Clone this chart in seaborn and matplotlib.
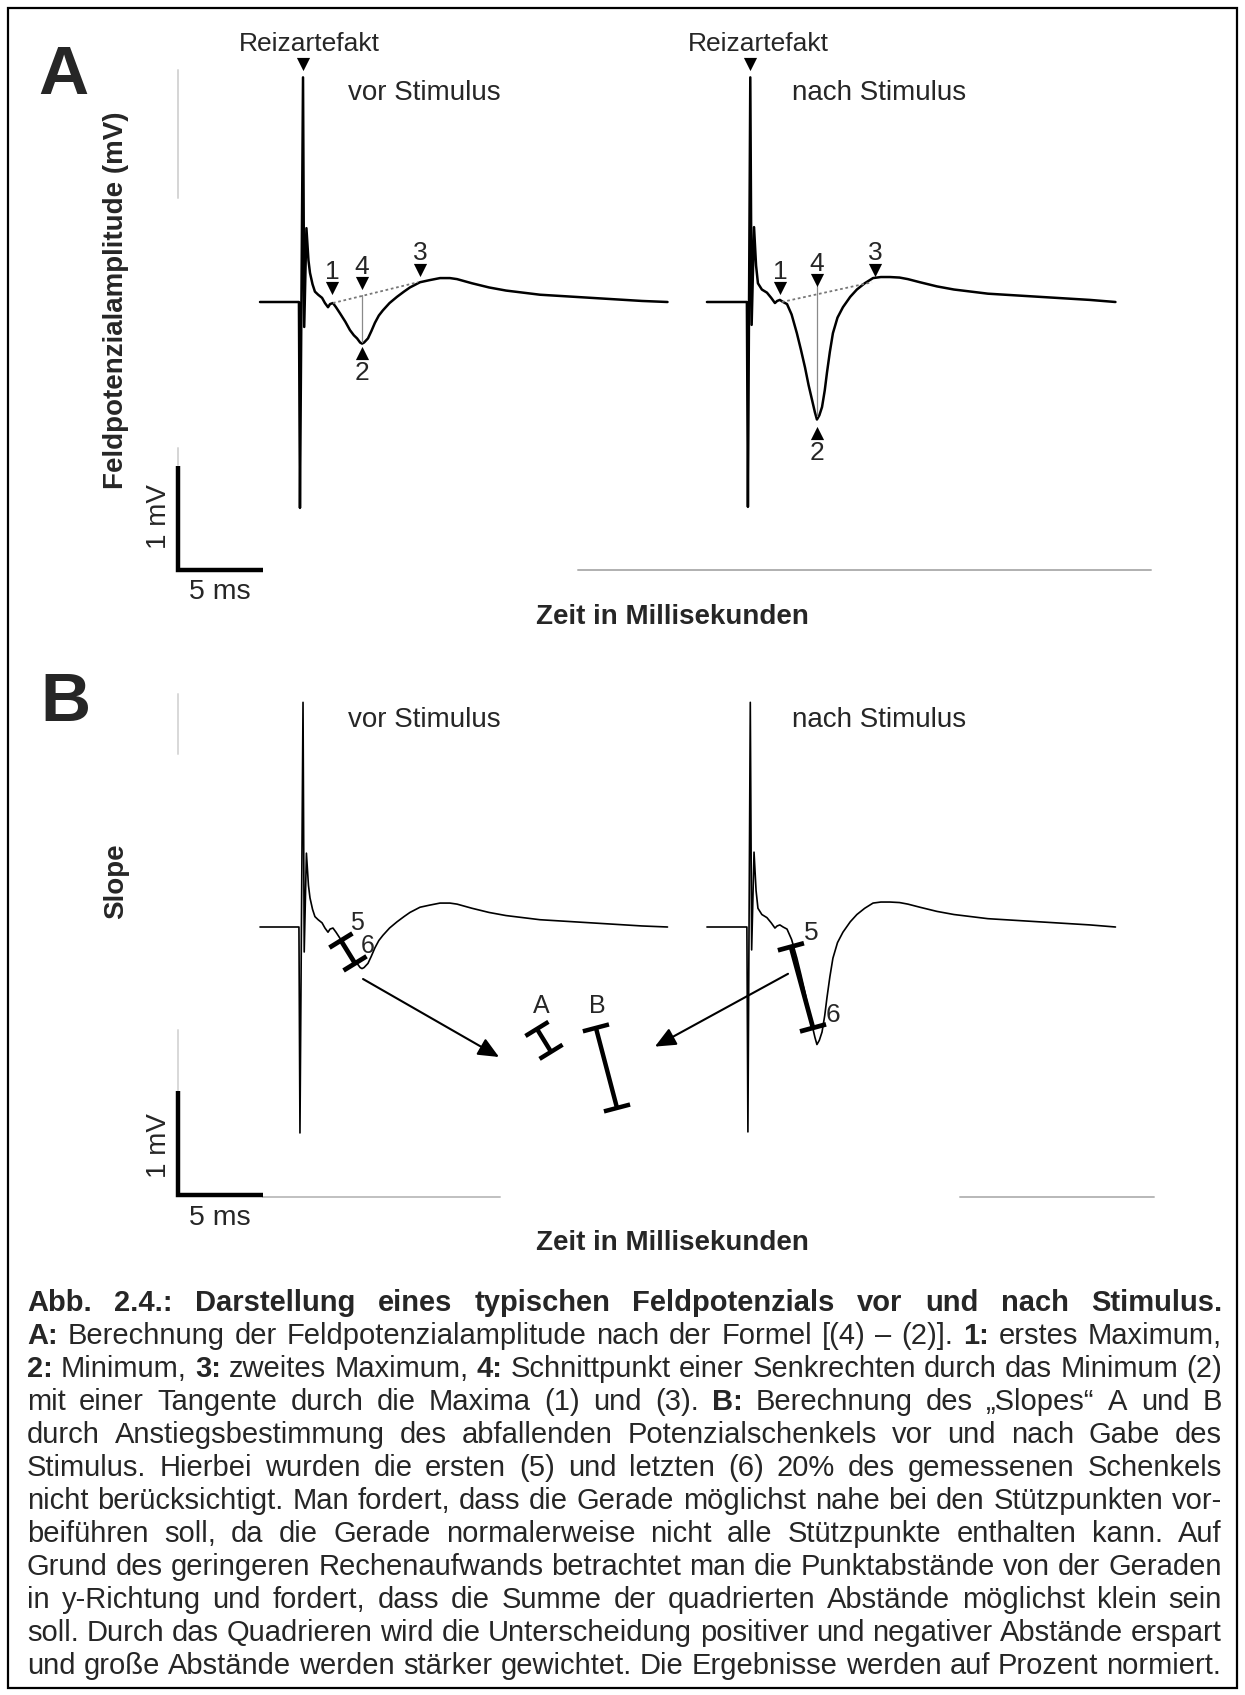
import numpy as np
import pandas as pd
import matplotlib
matplotlib.use("Agg")
import matplotlib.pyplot as plt
import seaborn as sns
from matplotlib.patches import Rectangle

# ---------------- data (ms, mV; t = 0 at stimulus artefact) ----------------
time_vor = [-2.47, -0.18, -0.12, 0.06, 0.13, 0.26, 0.38, 0.47, 0.62, 0.76, 0.95, 1.18,
            1.35, 1.53, 1.65, 1.82, 2.0, 2.24, 2.55, 2.82, 3.05, 3.24, 3.42, 3.53, 3.65,
            3.88, 4.08, 4.29, 4.52, 4.76, 5.15, 5.59, 6.0, 6.35, 6.94, 7.5, 8.12, 8.7,
            9.12, 10.0, 11.0, 12.0, 13.0, 14.0, 15.0, 16.0, 17.0, 18.0, 19.0, 20.0, 21.5]
volt_vor = [0.0, 0.0, -1.98, 2.16, -0.24, 0.71, 0.40, 0.28, 0.17, 0.10, 0.07, 0.04,
            -0.01, -0.05, -0.02, -0.01, -0.05, -0.11, -0.19, -0.27, -0.32, -0.35, -0.39, -0.40, -0.39,
            -0.35, -0.28, -0.20, -0.13, -0.08, -0.01, 0.05, 0.10, 0.14, 0.19, 0.21, 0.23, 0.23,
            0.22, 0.18, 0.14, 0.11, 0.09, 0.07, 0.06, 0.05, 0.04, 0.03, 0.02, 0.01, 0.0]

time_nach = [-2.53, -0.18, -0.12, 0.02, 0.10, 0.24, 0.36, 0.47, 0.7, 1.0, 1.25, 1.47,
             1.6, 1.76, 1.95, 2.18, 2.45, 2.76, 3.0, 3.24, 3.45, 3.65, 3.82, 3.94, 4.08,
             4.24, 4.4, 4.53, 4.7, 4.88, 5.15, 5.47, 5.9, 6.29, 6.75, 7.24, 7.7, 8.24,
             8.8, 9.29, 10.0, 11.0, 12.0, 13.0, 14.0, 15.0, 16.0, 17.0, 18.0, 19.0, 20.0, 21.5]
volt_nach = [0.0, 0.0, -1.97, 2.16, -0.22, 0.72, 0.35, 0.18, 0.12, 0.09, 0.04, -0.01,
             0.01, 0.02, 0.0, -0.02, -0.12, -0.30, -0.46, -0.63, -0.80, -0.94, -1.06, -1.13, -1.09,
             -1.01, -0.85, -0.68, -0.48, -0.30, -0.15, -0.05, 0.05, 0.12, 0.18, 0.23, 0.24, 0.24,
             0.235, 0.22, 0.19, 0.15, 0.12, 0.10, 0.08, 0.07, 0.06, 0.05, 0.04, 0.03, 0.02, 0.0]

# panel A markers
reiz_t = [0.06, 0.0]
reiz_v = [2.29, 2.29]
down_labels = ["1", "4", "3"]
vor_down_t = [1.76, 3.53, 6.94]
vor_down_v = [0.13, 0.18, 0.31]
nach_down_t = [1.76, 3.94, 7.35]
nach_down_v = [0.13, 0.21, 0.31]
vor_min_t, vor_min_v = 3.53, -0.49
nach_min_t, nach_min_v = 3.94, -1.26
tangent_vor_t = [1.82, 6.82]
tangent_vor_v = [-0.01, 0.19]
tangent_nach_t = [1.88, 7.18]
tangent_nach_v = [0.0, 0.19]
perp_vor_v = [0.07, -0.38]
perp_nach_v = [0.15, -1.10]

# panel B slope segments
slope_vor_t = [2.29, 3.12]
slope_vor_v = [-0.13, -0.35]
slope_nach_t = [2.41, 3.71]
slope_nach_v = [-0.19, -0.97]
slope_A_t = [13.82, 14.65]
slope_A_v = [-0.98, -1.20]
slope_B_t = [17.29, 18.53]
slope_B_v = [-0.97, -1.74]

scale_ms = 5.0
scale_mv = 1.0

caption_lines = [
    "Abb. 2.4.: Darstellung eines typischen Feldpotenzials vor und nach Stimulus.",
    "A: Berechnung der Feldpotenzialamplitude nach der Formel [(4) \u2013 (2)]. 1: erstes Maximum,",
    "2: Minimum, 3: zweites Maximum, 4: Schnittpunkt einer Senkrechten durch das Minimum (2)",
    "mit einer Tangente durch die Maxima (1) und (3). B: Berechnung des \u201eSlopes\u201c A und B",
    "durch Anstiegsbestimmung des abfallenden Potenzialschenkels vor und nach Gabe des",
    "Stimulus. Hierbei wurden die ersten (5) und letzten (6) 20% des gemessenen Schenkels",
    "nicht ber\u00fccksichtigt. Man fordert, dass die Gerade m\u00f6glichst nahe bei den St\u00fctzpunkten vor-",
    "beif\u00fchren soll, da die Gerade normalerweise nicht alle St\u00fctzpunkte enthalten kann. Auf",
    "Grund des geringeren Rechenaufwands betrachtet man die Punktabst\u00e4nde von der Geraden",
    "in y-Richtung und fordert, dass die Summe der quadrierten Abst\u00e4nde m\u00f6glichst klein sein",
    "soll. Durch das Quadrieren wird die Unterscheidung positiver und negativer Abst\u00e4nde erspart",
    "und gro\u00dfe Abst\u00e4nde werden st\u00e4rker gewichtet. Die Ergebnisse werden auf Prozent normiert.",
]
bold_tokens = {"A:", "1:", "2:", "3:", "4:", "B:"}

# ---------------- layout ----------------
sns.set_theme(style="white")
plt.rcParams["font.family"] = ["Liberation Sans", "DejaVu Sans"]

W, H = 1245, 1695
fig = plt.figure(figsize=(W / 100, H / 100), dpi=100)
fig.patch.set_facecolor("white")
bg = fig.add_axes([0, 0, 1, 1])
bg.set_xlim(0, W)
bg.set_ylim(H, 0)
bg.axis("off")

PX_MS, PX_MV, X_STIM = 17.0, 104.0, 302.0
NACH_OFFSET = 26.35


def panel_axes(top_px, bot_px):
    ax = fig.add_axes([0, 1 - bot_px / H, 1, (bot_px - top_px) / H])
    ax.axis("off")
    return ax


def set_limits(ax, top_px, bot_px, base_px):
    ax.set_xlim(-X_STIM / PX_MS, (W - X_STIM) / PX_MS)
    ax.set_ylim((base_px - bot_px) / PX_MV, (base_px - top_px) / PX_MV)


def draw_traces(ax, lw):
    for t, v, off in [(time_vor, volt_vor, 0.0), (time_nach, volt_nach, NACH_OFFSET)]:
        df = pd.DataFrame({"t": np.asarray(t) + off, "v": v})
        sns.lineplot(data=df, x="t", y="v", sort=False, estimator=None,
                     color="black", lw=lw, ax=ax, legend=False)
    ax.set_xlabel("")
    ax.set_ylabel("")


def scalebar(ax):
    x0 = -7.29
    y0 = -2.58
    ax.plot([x0, x0, x0 + scale_ms], [y0 + scale_mv, y0, y0], color="black", lw=3.2,
            solid_joinstyle="miter", solid_capstyle="butt")


def ibeam(ax, ts, vs, cap=26, lw=3.0):
    p = ax.transData.transform(np.column_stack([ts, vs]))
    d = p[1] - p[0]
    d = d / np.hypot(*d)
    n = np.array([-d[1], d[0]])
    inv = ax.transData.inverted()
    ax.plot(ts, vs, color="black", lw=lw, solid_capstyle="butt")
    for q in p:
        e = inv.transform(np.array([q - n * cap / 2, q + n * cap / 2]))
        ax.plot(e[:, 0], e[:, 1], color="black", lw=lw, solid_capstyle="butt")


# ---- Panel A ----
A_TOP, A_BOT, A_BASE = 0, 650, 302
axA = panel_axes(A_TOP, A_BOT)
draw_traces(axA, 1.8)
set_limits(axA, A_TOP, A_BOT, A_BASE)
scalebar(axA)
tri = dict(color="black", s=90, linewidths=0, zorder=5)
axA.scatter(np.array(reiz_t) + np.array([0, NACH_OFFSET]), reiz_v, marker="v", **tri)
for off, dt, dv, mt, mv, tt, tv, pv in [
        (0.0, vor_down_t, vor_down_v, vor_min_t, vor_min_v, tangent_vor_t, tangent_vor_v, perp_vor_v),
        (NACH_OFFSET, nach_down_t, nach_down_v, nach_min_t, nach_min_v, tangent_nach_t, tangent_nach_v, perp_nach_v)]:
    axA.plot(np.array(tt) + off, tv, color="#777777", lw=1.3, ls=(0, (1.5, 1.5)))
    axA.plot([mt + off, mt + off], pv, color="#8a8a8a", lw=0.9)
    axA.scatter(np.array(dt) + off, dv, marker="v", **tri)
    for lab, x, y in zip(down_labels, dt, dv):
        axA.text(x + off, y + 0.16, lab, ha="center", va="center", fontsize=19)
    axA.scatter([mt + off], [mv], marker="^", **tri)
    axA.text(mt + off, mv - 0.19, "2", ha="center", va="center", fontsize=19)

# ---- Panel B ----
B_TOP, B_BOT, B_BASE = 650, 1270, 927
axB = panel_axes(B_TOP, B_BOT)
draw_traces(axB, 1.2)
set_limits(axB, B_TOP, B_BOT, B_BASE)
scalebar(axB)
ibeam(axB, slope_vor_t, slope_vor_v, cap=27, lw=3.4)
ibeam(axB, np.array(slope_nach_t) + NACH_OFFSET, slope_nach_v, cap=27, lw=3.4)
ibeam(axB, slope_A_t, slope_A_v, cap=27, lw=3.2)
ibeam(axB, slope_B_t, slope_B_v, cap=27, lw=3.2)
axB.text(3.24, 0.04, "5", ha="center", va="center", fontsize=18)
axB.text(3.88, -0.18, "6", ha="center", va="center", fontsize=18)
axB.text(3.59 + NACH_OFFSET, -0.06, "5", ha="center", va="center", fontsize=19)
axB.text(4.89 + NACH_OFFSET, -0.85, "6", ha="center", va="center", fontsize=19)
axB.text(np.mean(slope_A_t) - 0.15, -0.76, "A", ha="center", va="center", fontsize=18)
axB.text(slope_B_t[0] + 0.06, -0.76, "B", ha="center", va="center", fontsize=18)
arrow = dict(arrowstyle="-|>,head_length=0.9,head_width=0.4", color="black", lw=1.5,
             shrinkA=0, shrinkB=0, mutation_scale=14)
axB.annotate("", xy=(11.59, -1.25), xytext=(3.59, -0.50), arrowprops=arrow)
axB.annotate("", xy=(20.76, -1.15), xytext=(28.59, -0.45), arrowprops=arrow)

# ---- faint remnants of original axes ----
for (x0, y0, x1, y1, c) in [(178, 70, 178, 198, "#d5d5d5"), (178, 448, 178, 465, "#d5d5d5"),
                            (578, 570, 1151, 570, "#b0b0b0"),
                            (178, 694, 178, 754, "#d8d8d8"), (178, 1030, 178, 1095, "#d8d8d8"),
                            (263, 1197, 500, 1197, "#c0c0c0"), (960, 1197, 1154, 1197, "#b8b8b8")]:
    bg.plot([x0, x1], [y0, y1], color=c, lw=1.4)

# ---- texts in pixel space ----
bg.text(63, 76, "A", ha="center", va="center", fontsize=50, fontweight="bold")
bg.text(65, 703, "B", ha="center", va="center", fontsize=50, fontweight="bold")
bg.text(116, 300, "Feldpotenzialamplitude (mV)", rotation=90, ha="center", va="center",
        fontsize=20, fontweight="bold")
bg.text(116, 881, "Slope", rotation=90, ha="center", va="center", fontsize=20, fontweight="bold")
for yy in (517, 1146):
    bg.text(159, yy, "1 mV", rotation=90, ha="center", va="center", fontsize=20)
for yy in (592, 1218):
    bg.text(220, yy, "5 ms", ha="center", va="center", fontsize=20.5)
for yy in (617, 1243):
    bg.text(672, yy, "Zeit in Millisekunden", ha="center", va="center", fontsize=20, fontweight="bold")
for xx in (309, 758):
    bg.text(xx, 44, "Reizartefakt", ha="center", va="center", fontsize=19)
for yy in (93, 720):
    bg.text(424, yy, "vor Stimulus", ha="center", va="center", fontsize=20)
    bg.text(879, yy, "nach Stimulus", ha="center", va="center", fontsize=20)

bg.add_patch(Rectangle((8, 8), 1229, 1680, fill=False, edgecolor="black", lw=1.6))

# ---- justified caption ----
renderer = fig.canvas.get_renderer()


def text_w(s, bold, size):
    t = bg.text(0, 0, s, fontsize=size, fontweight="bold" if bold else "normal")
    w = t.get_window_extent(renderer).width
    t.remove()
    return w


L, R = 27.0, 1222.0
probe = 20.0
ref = caption_lines[10]
nat = text_w(ref, False, probe)
size = probe * (R - L) / nat
space_w = text_w("a a", False, size) - text_w("aa", False, size)
y_first, dy = 1311.0, 33.0
for i, line in enumerate(caption_lines):
    words = line.split(" ")
    bolds = [True] * len(words) if i == 0 else [w in bold_tokens for w in words]
    widths = [text_w(w, b, size) for w, b in zip(words, bolds)]
    last = i == len(caption_lines) - 1
    gap = space_w if last else (R - L - sum(widths)) / (len(words) - 1)
    x = L
    y = y_first + i * dy
    for w, b, wd in zip(words, bolds, widths):
        bg.text(x, y, w, ha="left", va="baseline", fontsize=size,
                fontweight="bold" if b else "normal")
        x += wd + gap

fig.savefig("out.png", dpi=100, facecolor="white")
